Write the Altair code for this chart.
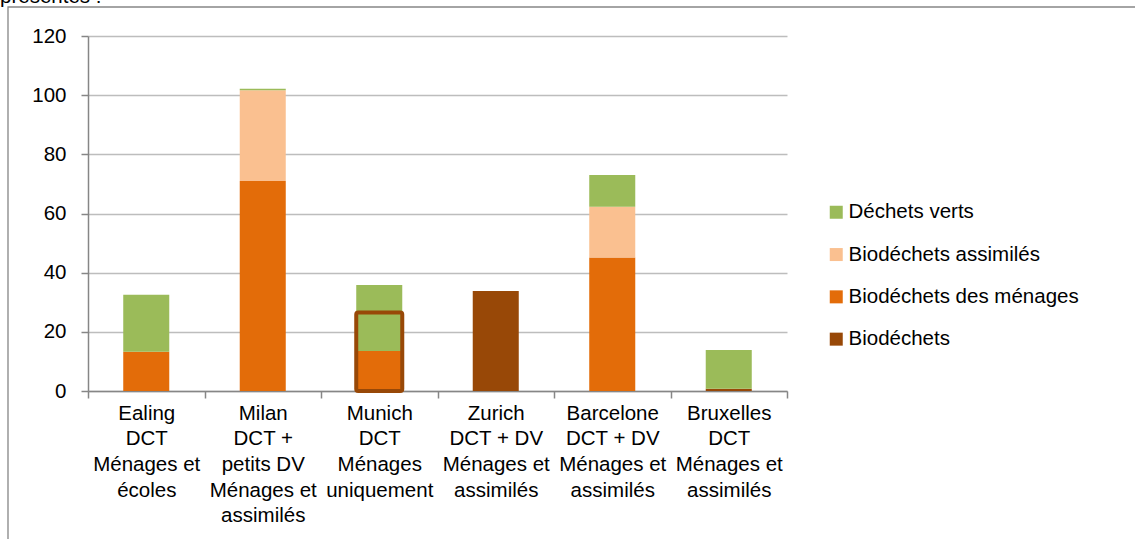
import altair as alt
import pandas as pd

# ---- data ----
categories = [
    "Ealing\nDCT\nMénages et\nécoles",
    "Milan\nDCT +\npetits DV\nMénages et\nassimilés",
    "Munich\nDCT\nMénages\nuniquement",
    "Zurich\nDCT + DV\nMénages et\nassimilés",
    "Barcelone\nDCT + DV\nMénages et\nassimilés",
    "Bruxelles\nDCT\nMénages et\nassimilés",
]
# stack order, bottom to top
series = ["Biodéchets", "Biodéchets des ménages", "Biodéchets assimilés", "Déchets verts"]
biodechets = [0, 0, 0, 33.8, 0, 0.8]
biodechets_menages = [13.3, 71.0, 13.5, 0, 45.1, 0]
biodechets_assimiles = [0, 30.7, 0, 0, 17.2, 0]
dechets_verts = [19.2, 0.5, 22.3, 0, 10.7, 13.1]
series_colors = ["#984807", "#E36C09", "#FAC090", "#9BBB59"]
legend_order = ["Déchets verts", "Biodéchets assimilés", "Biodéchets des ménages", "Biodéchets"]
y_ticks = list(range(0, 121, 10))
highlight_category = categories[2]
highlight_top = 26.5
top_text = "présentés :"

values_by_series = [biodechets, biodechets_menages, biodechets_assimiles, dechets_verts]
rows = []
for i, cat in enumerate(categories):
    for j, s in enumerate(series):
        v = values_by_series[j][i]
        if v > 0:
            rows.append({"cat": cat, "series": s, "value": v, "idx": j})
df = pd.DataFrame(rows)

color_map = dict(zip(series, series_colors))
legend_colors = [color_map[s] for s in legend_order]

FONT = "Liberation Sans"
FS = 20.5
AXIS_GRAY = "#868686"

x_enc = alt.X(
    "cat:N",
    sort=categories,
    scale=alt.Scale(domain=categories, paddingInner=0, paddingOuter=0),
    axis=alt.Axis(
        title=None,
        labelExpr="split(datum.label, '\\n')",
        labelAngle=0,
        tickBand="extent",
        labelFontSize=FS,
        labelLineHeight=25.7,
        labelPadding=5,
        tickSize=7,
        labelColor="black",
        labelFont=FONT,
        domainColor=AXIS_GRAY,
        tickColor=AXIS_GRAY,
        domainWidth=1.5,
        tickWidth=1.5,
        labelOverlap=False,
        labelLimit=300,
        grid=False,
    ),
)

y_scale = alt.Scale(domain=[0, 120], nice=False)

bars = alt.Chart(df).mark_bar(width=alt.RelativeBandSize(0.395)).encode(
    x=x_enc,
    y=alt.Y(
        "value:Q",
        stack="zero",
        scale=y_scale,
        axis=alt.Axis(
            title=None,
            values=y_ticks,
            labelExpr="datum.value % 20 == 0 ? datum.label : ''",
            grid=True,
            gridColor="#BDBDBD",
            gridWidth=1.3,
            tickSize=7,
            labelPadding=15,
            labelFontSize=FS,
            labelFont=FONT,
            labelColor="black",
            domainColor=AXIS_GRAY,
            tickColor=AXIS_GRAY,
            domainWidth=1.5,
            tickWidth=1.5,
        ),
    ),
    color=alt.Color(
        "series:N",
        scale=alt.Scale(domain=legend_order, range=legend_colors),
        legend=alt.Legend(
            title=None,
            orient="none",
            legendX=738,
            legendY=166,
            symbolType="square",
            symbolSize=169,
            symbolStrokeWidth=0,
            labelFontSize=FS,
            labelFont=FONT,
            labelColor="black",
            rowPadding=21.3,
            labelOffset=2,
            labelLimit=400,
        ),
    ),
    order=alt.Order("idx:Q", sort="ascending"),
)

hl_df = pd.DataFrame({"cat": [highlight_category], "lo": [0], "hi": [highlight_top]})
highlight = alt.Chart(hl_df).mark_bar(
    width=alt.RelativeBandSize(0.395),
    filled=False,
    stroke="#984807",
    strokeWidth=4,
    cornerRadius=2,
).encode(
    x=alt.X("cat:N", sort=categories),
    y=alt.Y("lo:Q", scale=y_scale),
    y2="hi:Q",
)

frame = alt.Chart(pd.DataFrame({"a": [0]})).mark_rect(
    filled=False, stroke=AXIS_GRAY, strokeWidth=1.3, clip=False
).encode(
    x=alt.value(-80), x2=alt.value(1060), y=alt.value(-29), y2=alt.value(520)
)

top = alt.Chart(pd.DataFrame({"t": [top_text]})).mark_text(
    align="left", baseline="alphabetic", fontSize=FS, font=FONT, color="black"
).encode(x=alt.value(-88), y=alt.value(-33), text="t:N")

chart = alt.layer(frame, top, bars, highlight).properties(
    width=699,
    height=355,
    autosize=alt.AutoSizeParams(type="none"),
    padding={"left": 88, "top": 36, "right": 348, "bottom": 148},
    background="white",
).configure_view(stroke=None)

chart.save("out.html", embed_options={"renderer": "svg", "actions": False})
